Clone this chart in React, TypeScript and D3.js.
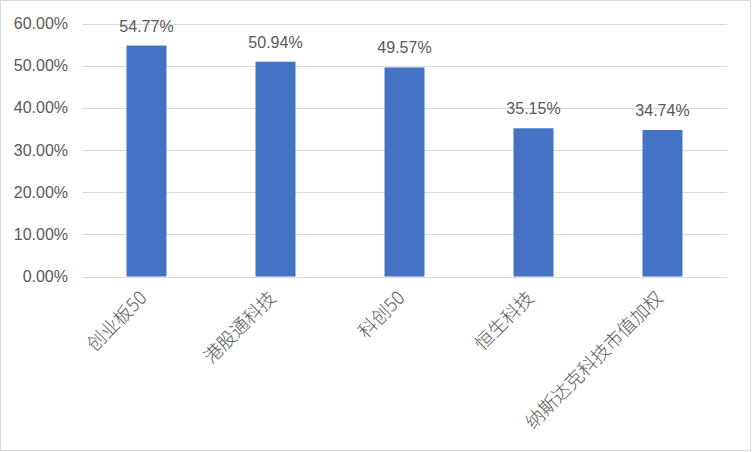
import React from "react";
import * as d3 from "d3";

const categories = ["创业板50", "港股通科技", "科创50", "恒生科技", "纳斯达克科技市值加权"];
const values = [0.5477, 0.5094, 0.4957, 0.3515, 0.3474];
const yTicks = [0, 0.1, 0.2, 0.3, 0.4, 0.5, 0.6];

const W = 752;
const H = 452;
const M = { left: 82, right: 25, top: 23.5, bottom: 175.5 };

export default function App() {
  const x = d3
    .scaleBand<string>()
    .domain(categories)
    .range([M.left, W - M.right])
    .paddingInner(0.69)
    .paddingOuter(0.345);
  const y = d3.scaleLinear().domain([0, 0.6]).range([H - M.bottom, M.top]);
  const fmt = d3.format(".2%");
  const num = "'Liberation Sans', Arial, sans-serif";
  const cjk = "'Noto Sans CJK SC', 'Liberation Sans', sans-serif";
  return (
    <svg
      width={W}
      height={H}
      style={{ position: "absolute", left: 0, top: 0, background: "#fff" }}
    >
      <rect x={0.5} y={0.5} width={W - 2} height={H - 2} fill="#fff" stroke="#d9d9d9" />
      {yTicks.map((t) => (
        <g key={t}>
          <line
            x1={M.left}
            x2={W - M.right}
            y1={Math.round(y(t)) + 0.5}
            y2={Math.round(y(t)) + 0.5}
            stroke="#d9d9d9"
            strokeWidth={1}
          />
          <text
            x={68}
            y={y(t)}
            dy="0.35em"
            textAnchor="end"
            fontFamily={num}
            fontSize={16}
            fill="#595959"
          >
            {fmt(t)}
          </text>
        </g>
      ))}
      {categories.map((c, i) => (
        <g key={c}>
          <rect
            x={x(c)}
            y={y(values[i])}
            width={x.bandwidth()}
            height={y(0) - y(values[i])}
            fill="#4472c4"
          />
          <text
            x={(x(c) as number) + x.bandwidth() / 2}
            y={y(values[i]) - 14}
            textAnchor="middle"
            fontFamily={num}
            fontSize={16}
            fill="#595959"
          >
            {fmt(values[i])}
          </text>
          <text
            transform={`translate(${(x(c) as number) + x.bandwidth() / 2 - 3},${y(0) + 18}) rotate(-45)`}
            textAnchor="end"
            dy="0.35em"
            fontFamily={cjk}
            fontSize={18.5}
            fontWeight={300}
            fill="#595959"
          >
            {c}
          </text>
        </g>
      ))}
    </svg>
  );
}
